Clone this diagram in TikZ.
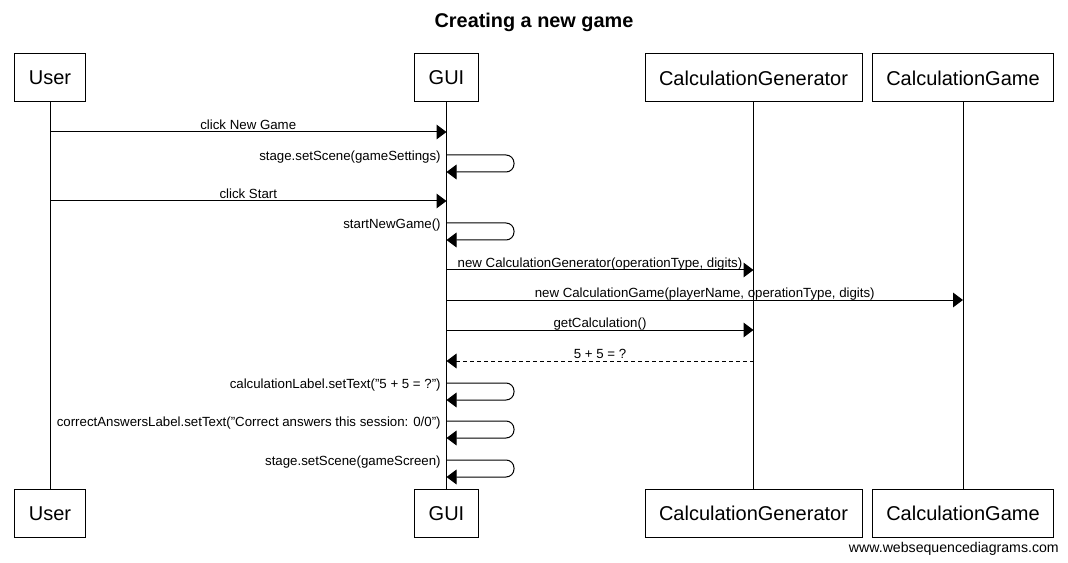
\documentclass[tikz,border=0pt]{standalone}
\usepackage{fontspec}
\setmainfont{Liberation Sans}
\usetikzlibrary{arrows.meta}

\tikzset{
  actor/.style={draw, line width=0.75pt, minimum height=36pt, inner xsep=10.5pt,
    font=\fontsize{15}{18}\selectfont},
  lifeline/.style={line width=0.75pt},
  msg/.style={line width=0.75pt, -{Triangle[length=7.5pt,width=11pt]}},
  reply/.style={msg, dash pattern=on 3pt off 2.25pt},
  selfmsg/.style={msg, rounded corners=6pt},
  lbl/.style={font=\fontsize{9.95}{12}\selectfont, inner sep=0pt}
}

\begin{document}
\begin{tikzpicture}[x=0.75pt,y=-0.75pt]

\useasboundingbox (0,0) rectangle (1068,563);

\node[font=\bfseries\fontsize{14.9}{18}\selectfont] (title) at (534,22.5) {Creating a new game};

% participants, top row
\node[actor] (userTop) at (50,78) {User};
\node[actor] (guiTop) at (446.5,78) {GUI};
\node[actor] (genTop) at (753.5,78) {CalculationGenerator};
\node[actor] (gameTop) at (963,78) {CalculationGame};

% participants, bottom row
\node[actor] (userBot) at (50,513.5) {User};
\node[actor] (guiBot) at (446.5,513.5) {GUI};
\node[actor] (genBot) at (753.5,513.5) {CalculationGenerator};
\node[actor] (gameBot) at (963,513.5) {CalculationGame};

% lifelines
\draw[lifeline] (userTop) -- (userBot);
\draw[lifeline] (guiTop) -- (guiBot);
\draw[lifeline] (genTop) -- (genBot);
\draw[lifeline] (gameTop) -- (gameBot);

% messages
\draw[msg] (userTop |- 0,132) -- node[lbl, anchor=base, yshift=2pt] {click New Game} (guiTop |- 0,132);

\draw[selfmsg] (guiTop |- 0,155) node[lbl, anchor=base east, xshift=-4pt, yshift=-4.3pt] {stage.setScene(gameSettings)}
  -- (514,155) -- (514,172) -- (guiTop |- 0,172);

\draw[msg] (userTop |- 0,201) -- node[lbl, anchor=base, yshift=2pt] {click Start} (guiTop |- 0,201);

\draw[selfmsg] (guiTop |- 0,223) node[lbl, anchor=base east, xshift=-4pt, yshift=-4.3pt] {startNewGame()}
  -- (514,223) -- (514,240) -- (guiTop |- 0,240);

\draw[msg] (guiTop |- 0,270) -- node[lbl, anchor=base, yshift=2pt] {new CalculationGenerator(operationType, digits)} (genTop |- 0,270);

\draw[msg] (guiTop |- 0,300) -- node[lbl, anchor=base, yshift=2pt] {new CalculationGame(playerName, operationType, digits)} (gameTop |- 0,300);

\draw[msg] (guiTop |- 0,330) -- node[lbl, anchor=base, yshift=2pt] {getCalculation()} (genTop |- 0,330);

\draw[reply] (genTop |- 0,361) -- node[lbl, anchor=base, yshift=2pt] {5 + 5 = ?} (guiTop |- 0,361);

\draw[selfmsg] (guiTop |- 0,383) node[lbl, anchor=base east, xshift=-4pt, yshift=-4.3pt] {calculationLabel.setText("5 + 5 = ?")}
  -- (514,383) -- (514,400) -- (guiTop |- 0,400);

\draw[selfmsg] (guiTop |- 0,421) node[lbl, anchor=base east, xshift=-4pt, yshift=-4.3pt] {correctAnswersLabel.setText("Correct answers this session: 0/0")}
  -- (514,421) -- (514,438) -- (guiTop |- 0,438);

\draw[selfmsg] (guiTop |- 0,460) node[lbl, anchor=base east, xshift=-4pt, yshift=-4.3pt] {stage.setScene(gameScreen)}
  -- (514,460) -- (514,477) -- (guiTop |- 0,477);

\node[lbl, font=\fontsize{10.6}{12.7}\selectfont, anchor=base east] (mark) at (1059,552) {www.websequencediagrams.com};

\end{tikzpicture}
\end{document}
